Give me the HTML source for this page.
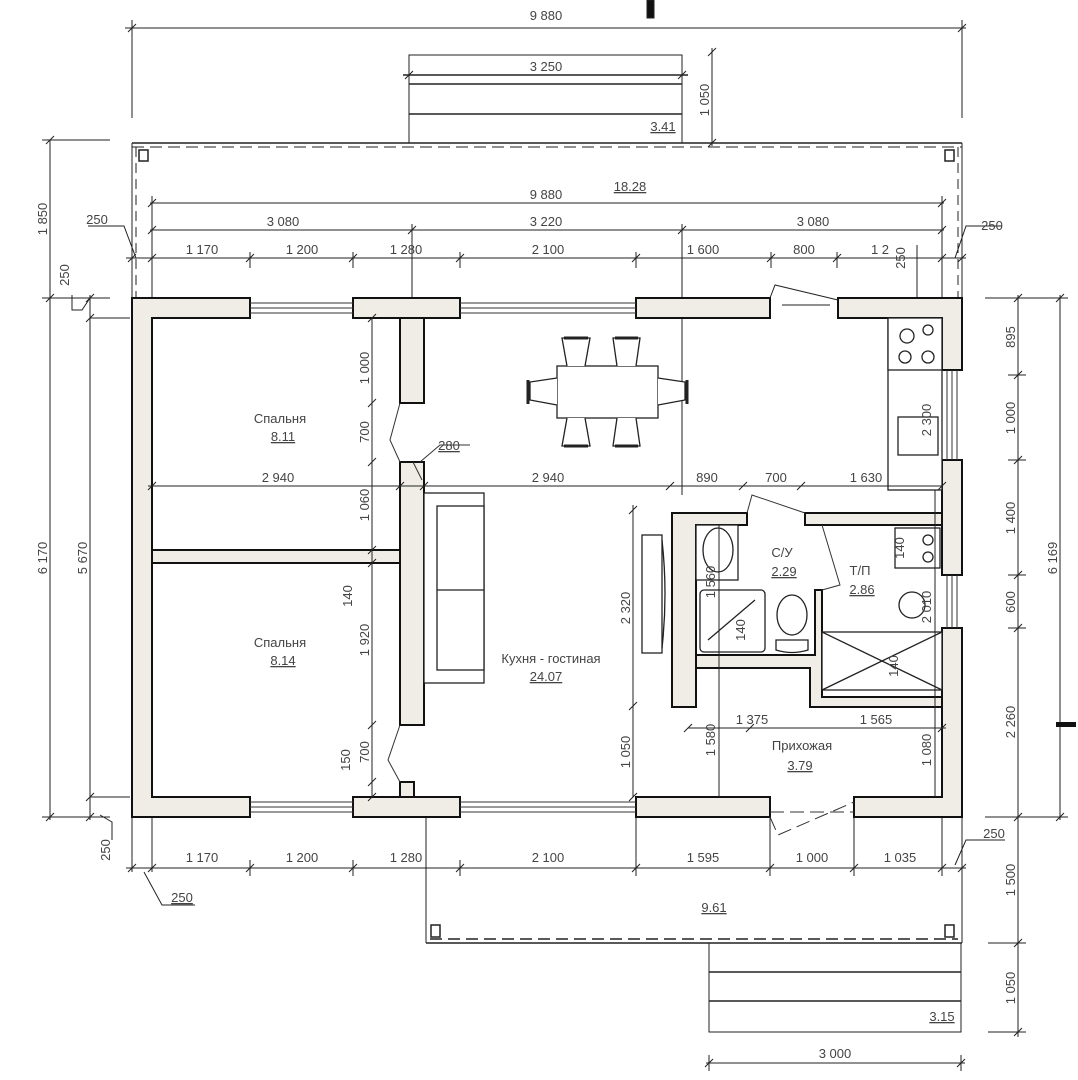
<!DOCTYPE html>
<html><head><meta charset="utf-8"><style>
html,body{margin:0;padding:0;background:#fff}
svg{display:block}
text{font-family:"Liberation Sans",sans-serif;font-size:13px;fill:#444}
</style></head><body>
<svg width="1078" height="1080" viewBox="0 0 1078 1080" xmlns="http://www.w3.org/2000/svg">
<g stroke="#222" fill="none" stroke-width="1">
<line x1="125" y1="28" x2="966" y2="28"/>
<line x1="132" y1="20" x2="132" y2="118"/><line x1="962" y1="20" x2="962" y2="118"/>
<path d="M128 32 L136 24 M958 32 L966 24"/>
<rect x="647" y="0" width="7" height="18" fill="#111"/>
<rect x="409" y="55" width="273" height="88"/>
<line x1="403" y1="75" x2="688" y2="75" stroke-width="1.5"/>
<line x1="409" y1="84" x2="682" y2="84" stroke-width="1.5"/>
<line x1="409" y1="114" x2="682" y2="114" stroke-width="1.5"/>
<path d="M405 79 L413 71 M678 79 L686 71"/>
<line x1="712" y1="48" x2="712" y2="146"/><path d="M708 56 L716 48 M708 147 L716 139"/>
<line x1="132" y1="143" x2="962" y2="143" stroke-width="1.5"/>
<line x1="132" y1="147" x2="962" y2="147" stroke-dasharray="12 6"/>
<line x1="132" y1="143" x2="132" y2="298"/><line x1="962" y1="143" x2="962" y2="298"/>
<line x1="136" y1="147" x2="136" y2="298" stroke-dasharray="10 6"/><line x1="958" y1="147" x2="958" y2="298" stroke-dasharray="10 6"/>
<rect x="139" y="150" width="9" height="11" stroke-width="1.5"/><rect x="945" y="150" width="9" height="11" stroke-width="1.5"/>
<line x1="150" y1="203" x2="944" y2="203"/>
<line x1="150" y1="230" x2="944" y2="230"/>
<line x1="126" y1="258" x2="966" y2="258"/>
<line x1="152" y1="196" x2="152" y2="298"/><line x1="942" y1="196" x2="942" y2="298"/>
<line x1="412" y1="224" x2="412" y2="298"/><line x1="682" y1="224" x2="682" y2="495"/>
<line x1="250" y1="252" x2="250" y2="268"/><line x1="353" y1="252" x2="353" y2="268"/><line x1="460" y1="252" x2="460" y2="268"/><line x1="636" y1="252" x2="636" y2="268"/><line x1="771" y1="252" x2="771" y2="268"/><line x1="837" y1="252" x2="837" y2="268"/>
<line x1="917" y1="245" x2="917" y2="298"/>
<path d="M148 207 L156 199 M938 207 L946 199 M148 234 L156 226 M408 234 L416 226 M678 234 L686 226 M938 234 L946 226 M128 262 L136 254 M148 262 L156 254 M246 262 L254 254 M349 262 L357 254 M456 262 L464 254 M632 262 L640 254 M767 262 L775 254 M833 262 L841 254 M938 262 L946 254 M958 262 L966 254"/>
<path d="M88 226 L124 226 L136 258 M955 258 L966 226 L1002 226"/>
<line x1="50" y1="140" x2="50" y2="820"/>
<line x1="42" y1="140" x2="110" y2="140"/><line x1="42" y1="298" x2="110" y2="298"/><line x1="42" y1="817" x2="110" y2="817"/>
<path d="M46 144 L54 136 M46 302 L54 294 M46 821 L54 813"/>
<line x1="90" y1="295" x2="90" y2="820"/>
<line x1="90" y1="318" x2="130" y2="318"/><line x1="90" y1="797" x2="130" y2="797"/>
<path d="M86 302 L94 294 M86 322 L94 314 M86 801 L94 793 M86 821 L94 813"/>
<path d="M72 295 L72 310 L82 310 L90 298 M100 815 L112 822 L112 840"/>
<line x1="1018" y1="295" x2="1018" y2="1037"/>
<line x1="1060" y1="295" x2="1060" y2="820"/>
<line x1="985" y1="298" x2="1068" y2="298"/><line x1="985" y1="817" x2="1068" y2="817"/>
<line x1="1008" y1="375" x2="1026" y2="375"/><line x1="1008" y1="460" x2="1026" y2="460"/><line x1="1008" y1="575" x2="1026" y2="575"/><line x1="1008" y1="628" x2="1026" y2="628"/>
<line x1="988" y1="943" x2="1026" y2="943"/><line x1="988" y1="1032" x2="1026" y2="1032"/>
<path d="M1014 302 L1022 294 M1014 379 L1022 371 M1014 464 L1022 456 M1014 579 L1022 571 M1014 632 L1022 624 M1014 821 L1022 813 M1014 947 L1022 939 M1014 1036 L1022 1028 M1056 302 L1064 294 M1056 821 L1064 813"/>
<rect x="1056" y="722" width="20" height="5" fill="#111" stroke="none"/>
<line x1="126" y1="868" x2="966" y2="868"/>
<line x1="132" y1="817" x2="132" y2="872"/><line x1="152" y1="817" x2="152" y2="872"/>
<line x1="250" y1="860" x2="250" y2="876"/><line x1="353" y1="860" x2="353" y2="876"/><line x1="460" y1="860" x2="460" y2="876"/><line x1="636" y1="817" x2="636" y2="876"/><line x1="770" y1="817" x2="770" y2="876"/><line x1="854" y1="817" x2="854" y2="876"/><line x1="942" y1="817" x2="942" y2="876"/><line x1="962" y1="817" x2="962" y2="876"/>
<path d="M128 872 L136 864 M148 872 L156 864 M246 872 L254 864 M349 872 L357 864 M456 872 L464 864 M632 872 L640 864 M766 872 L774 864 M850 872 L858 864 M938 872 L946 864 M958 872 L966 864"/>
<path d="M144 872 L162 905 L195 905 M955 865 L966 840 L1005 840"/>
<line x1="426" y1="817" x2="426" y2="943"/><line x1="962" y1="817" x2="962" y2="943"/>
<line x1="426" y1="943" x2="962" y2="943" stroke-width="1.5"/>
<line x1="430" y1="939" x2="958" y2="939" stroke-dasharray="12 6" stroke-width="1.5"/>
<rect x="431" y="925" width="9" height="12" stroke-width="1.5"/><rect x="945" y="925" width="9" height="12" stroke-width="1.5"/>
<rect x="709" y="943" width="252" height="89"/>
<line x1="709" y1="972" x2="961" y2="972" stroke-width="1.5"/><line x1="709" y1="1001" x2="961" y2="1001" stroke-width="1.5"/>
<line x1="706" y1="1063" x2="965" y2="1063"/><line x1="709" y1="1055" x2="709" y2="1071"/><line x1="961" y1="1055" x2="961" y2="1071"/>
<path d="M705 1067 L713 1059 M957 1067 L965 1059"/>
</g>

<g fill="#efede6" stroke="#111" stroke-width="2">
<path d="M132 298 H250 V318 H152 V797 H250 V817 H132 Z"/>
<rect x="353" y="298" width="107" height="20"/>
<rect x="636" y="298" width="134" height="20"/>
<path d="M838 298 H962 V370 H942 V318 H838 Z"/>
<path d="M942 460 H962 V575 H942 Z"/>
<path d="M942 628 H962 V817 H854 V797 H942 Z"/>
<rect x="353" y="797" width="107" height="20"/>
<rect x="636" y="797" width="134" height="20"/>
<rect x="152" y="550" width="248" height="13"/>
<path d="M400 318 H424 V403 H400 Z"/>
<path d="M400 462 H424 V725 H400 Z"/>
<path d="M400 782 H414 V797 H400 Z"/>
<path d="M672 513 H747 V525 H696 V707 H672 Z"/>
<rect x="805" y="513" width="137" height="12"/>
<path d="M696 655 H815 V590 H822 V697 H942 V707 H810 V668 H696 Z"/>
</g>
<g stroke="#333" stroke-width="1" fill="none">
<path d="M250 303 H353 M250 308 H353 M250 313 H353 M460 303 H636 M460 308 H636 M460 313 H636"/>
<path d="M250 802 H353 M250 807 H353 M250 812 H353 M460 802 H636 M460 807 H636 M460 812 H636"/>
<path d="M947 370 V460 M952 370 V460 M957 370 V460 M947 575 V628 M952 575 V628 M957 575 V628"/>
<path d="M770 298 L775 285 L838 300 M782 305 H830" stroke="#222"/>
<path d="M400 403 L390 440 L400 462"/>
<path d="M400 725 L388 760 L400 782"/>
<path d="M770 817 L778 835 L854 802 M770 812 H854" stroke-dasharray="14 6"/>
<path d="M747 513 L752 495 L805 513"/>
<path d="M822 525 L840 585 L822 590"/>
<path d="M413 462 L422 480 M420 462 L440 445 L470 445"/>
</g>
<g stroke="#222" stroke-width="1.3" fill="#fff">
<rect x="557" y="366" width="101" height="52"/>
<path d="M567 366 L562 338 H590 L585 366 M617 366 L613 338 H640 L636 366"/>
<path d="M567 418 L562 446 H590 L585 418 M617 418 L613 446 H640 L636 418"/>
<path d="M557 378 L530 382 V400 L557 405 M658 378 L685 382 V400 L658 405"/>
<path d="M528 380 V404 M687 380 V404" stroke-width="3"/>
<path d="M564 338 H588 M615 338 H638 M564 446 H588 M615 446 H638" stroke-width="3"/>
<rect x="424" y="493" width="60" height="190"/>
<rect x="437" y="506" width="47" height="164"/>
<line x1="437" y1="590" x2="484" y2="590"/>
<rect x="642" y="535" width="20" height="118"/>
<path d="M662 540 Q668 594 662 648" fill="none"/>
<rect x="888" y="318" width="54" height="172"/>
<rect x="888" y="318" width="54" height="52"/>
<circle cx="907" cy="336" r="7" fill="none"/><circle cx="928" cy="330" r="5" fill="none"/><circle cx="905" cy="357" r="6" fill="none"/><circle cx="928" cy="357" r="6" fill="none"/>
<rect x="898" y="417" width="40" height="38"/>
<rect x="696" y="525" width="42" height="55"/>
<ellipse cx="718" cy="550" rx="15" ry="22" fill="none"/>
<rect x="700" y="590" width="65" height="62" rx="4"/>
<line x1="708" y1="640" x2="755" y2="600"/>
<ellipse cx="792" cy="615" rx="15" ry="20"/>
<path d="M776 640 H808 V650 Q792 655 776 650 Z"/>
<rect x="822" y="632" width="120" height="58"/>
<path d="M822 632 L942 690 M822 690 L942 632"/>
<rect x="895" y="528" width="45" height="40"/>
<circle cx="928" cy="540" r="5" fill="none"/><circle cx="928" cy="557" r="5" fill="none"/>
<circle cx="912" cy="605" r="13"/>
</g>
<g stroke="#222" stroke-width="1" fill="none">
<line x1="372" y1="318" x2="372" y2="797"/>
<path d="M368 322 L376 314 M368 407 L376 399 M368 466 L376 458 M368 554 L376 546 M368 567 L376 559 M368 729 L376 721 M368 786 L376 778 M368 801 L376 793"/>
<line x1="148" y1="486" x2="942" y2="486"/>
<path d="M148 490 L156 482 M396 490 L404 482 M420 490 L428 482 M666 490 L674 482 M739 490 L747 482 M797 490 L805 482 M938 490 L946 482"/>
<line x1="633" y1="505" x2="633" y2="797"/>
<path d="M629 514 L637 506 M629 710 L637 702 M629 801 L637 793"/>
<line x1="688" y1="728" x2="946" y2="728"/>
<path d="M684 732 L692 724 M746 732 L754 724 M938 732 L946 724"/>
<line x1="719" y1="525" x2="719" y2="797"/>
<line x1="935" y1="490" x2="935" y2="797"/>
</g>

<g>
<text x="546" y="20" text-anchor="middle">9 880</text>
<text x="546" y="71" text-anchor="middle">3 250</text>
<text x="663" y="131" text-anchor="middle" text-decoration="underline">3.41</text>
<text x="630" y="191" text-anchor="middle" text-decoration="underline">18.28</text>
<text x="546" y="199" text-anchor="middle">9 880</text>
<text x="283" y="226" text-anchor="middle">3 080</text>
<text x="546" y="226" text-anchor="middle">3 220</text>
<text x="813" y="226" text-anchor="middle">3 080</text>
<text x="202" y="254" text-anchor="middle">1 170</text>
<text x="302" y="254" text-anchor="middle">1 200</text>
<text x="406" y="254" text-anchor="middle">1 280</text>
<text x="548" y="254" text-anchor="middle">2 100</text>
<text x="703" y="254" text-anchor="middle">1 600</text>
<text x="804" y="254" text-anchor="middle">800</text>
<text x="880" y="254" text-anchor="middle">1 2</text>
<text x="97" y="224" text-anchor="middle">250</text>
<text x="992" y="230" text-anchor="middle">250</text>
<text x="280" y="423" text-anchor="middle">Спальня</text>
<text x="283" y="441" text-anchor="middle" text-decoration="underline">8.11</text>
<text x="280" y="647" text-anchor="middle">Спальня</text>
<text x="283" y="665" text-anchor="middle" text-decoration="underline">8.14</text>
<text x="551" y="663" text-anchor="middle">Кухня - гостиная</text>
<text x="546" y="681" text-anchor="middle" text-decoration="underline">24.07</text>
<text x="782" y="557" text-anchor="middle">С/У</text>
<text x="784" y="576" text-anchor="middle" text-decoration="underline">2.29</text>
<text x="860" y="575" text-anchor="middle">Т/П</text>
<text x="862" y="594" text-anchor="middle" text-decoration="underline">2.86</text>
<text x="802" y="750" text-anchor="middle">Прихожая</text>
<text x="800" y="770" text-anchor="middle" text-decoration="underline">3.79</text>
<text x="278" y="482" text-anchor="middle">2 940</text>
<text x="548" y="482" text-anchor="middle">2 940</text>
<text x="707" y="482" text-anchor="middle">890</text>
<text x="776" y="482" text-anchor="middle">700</text>
<text x="866" y="482" text-anchor="middle">1 630</text>
<text x="449" y="450" text-anchor="middle" text-decoration="underline">280</text>
<text x="752" y="724" text-anchor="middle">1 375</text>
<text x="876" y="724" text-anchor="middle">1 565</text>
<text x="202" y="862" text-anchor="middle">1 170</text>
<text x="302" y="862" text-anchor="middle">1 200</text>
<text x="406" y="862" text-anchor="middle">1 280</text>
<text x="548" y="862" text-anchor="middle">2 100</text>
<text x="703" y="862" text-anchor="middle">1 595</text>
<text x="812" y="862" text-anchor="middle">1 000</text>
<text x="900" y="862" text-anchor="middle">1 035</text>
<text x="182" y="902" text-anchor="middle" text-decoration="underline">250</text>
<text x="994" y="838" text-anchor="middle">250</text>
<text x="714" y="912" text-anchor="middle" text-decoration="underline">9.61</text>
<text x="942" y="1021" text-anchor="middle" text-decoration="underline">3.15</text>
<text x="835" y="1058" text-anchor="middle">3 000</text>
<g>
<text transform="translate(47,219) rotate(-90)" text-anchor="middle">1 850</text>
<text transform="translate(47,558) rotate(-90)" text-anchor="middle">6 170</text>
<text transform="translate(87,558) rotate(-90)" text-anchor="middle">5 670</text>
<text transform="translate(69,275) rotate(-90)" text-anchor="middle">250</text>
<text transform="translate(110,850) rotate(-90)" text-anchor="middle">250</text>
<text transform="translate(369,368) rotate(-90)" text-anchor="middle">1 000</text>
<text transform="translate(369,432) rotate(-90)" text-anchor="middle">700</text>
<text transform="translate(369,505) rotate(-90)" text-anchor="middle">1 060</text>
<text transform="translate(352,596) rotate(-90)" text-anchor="middle">140</text>
<text transform="translate(369,640) rotate(-90)" text-anchor="middle">1 920</text>
<text transform="translate(369,752) rotate(-90)" text-anchor="middle">700</text>
<text transform="translate(350,760) rotate(-90)" text-anchor="middle">150</text>
<text transform="translate(630,608) rotate(-90)" text-anchor="middle">2 320</text>
<text transform="translate(630,752) rotate(-90)" text-anchor="middle">1 050</text>
<text transform="translate(715,582) rotate(-90)" text-anchor="middle">1 560</text>
<text transform="translate(745,630) rotate(-90)" text-anchor="middle">140</text>
<text transform="translate(715,740) rotate(-90)" text-anchor="middle">1 580</text>
<text transform="translate(931,420) rotate(-90)" text-anchor="middle">2 300</text>
<text transform="translate(904,548) rotate(-90)" text-anchor="middle">140</text>
<text transform="translate(931,607) rotate(-90)" text-anchor="middle">2 010</text>
<text transform="translate(898,666) rotate(-90)" text-anchor="middle">140</text>
<text transform="translate(931,750) rotate(-90)" text-anchor="middle">1 080</text>
<text transform="translate(905,258) rotate(-90)" text-anchor="middle">250</text>
<text transform="translate(1015,337) rotate(-90)" text-anchor="middle">895</text>
<text transform="translate(1015,418) rotate(-90)" text-anchor="middle">1 000</text>
<text transform="translate(1015,518) rotate(-90)" text-anchor="middle">1 400</text>
<text transform="translate(1015,602) rotate(-90)" text-anchor="middle">600</text>
<text transform="translate(1015,722) rotate(-90)" text-anchor="middle">2 260</text>
<text transform="translate(1057,558) rotate(-90)" text-anchor="middle">6 169</text>
<text transform="translate(1015,880) rotate(-90)" text-anchor="middle">1 500</text>
<text transform="translate(1015,988) rotate(-90)" text-anchor="middle">1 050</text>
<text transform="translate(709,100) rotate(-90)" text-anchor="middle">1 050</text>
</g>
</g>
</svg>
</body></html>
